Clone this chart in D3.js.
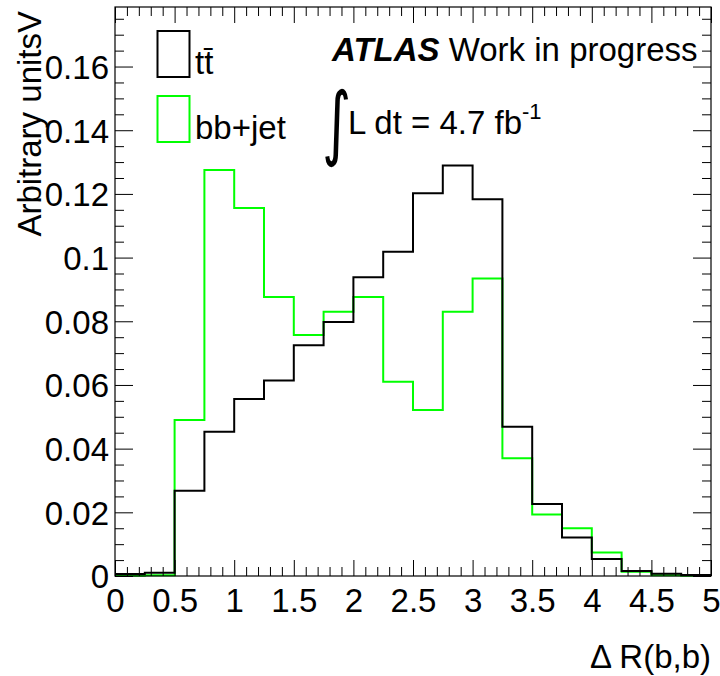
<!DOCTYPE html>
<html>
<head>
<meta charset="utf-8">
<script src="https://cdn.jsdelivr.net/npm/d3@7"></script>
<style>
  body { margin: 0; background: #fff; }
  svg { display: block; font-family: "Liberation Sans", Arial, Helvetica, sans-serif; }
</style>
</head>
<body>
<div id="chart"></div>
<script>
// ---- data ----
const binEdges = [0, 0.25, 0.5, 0.75, 1, 1.25, 1.5, 1.75, 2, 2.25, 2.5, 2.75, 3, 3.25, 3.5, 3.75, 4, 4.25, 4.5, 4.75, 5];
const ttValues = [0.0006, 0.0010, 0.0268, 0.0453, 0.0556, 0.0614, 0.0725, 0.0798, 0.0938, 0.1018,
                  0.1202, 0.1289, 0.1183, 0.0469, 0.0226, 0.0121, 0.0053, 0.0016, 0.0007, 0.0003];
const bbValues = [0.0001, 0.0002, 0.0490, 0.1275, 0.1156, 0.0876, 0.0757, 0.0830, 0.0876, 0.0610,
                  0.0521, 0.0830, 0.0934, 0.0370, 0.0193, 0.0150, 0.0074, 0.0013, 0.0002, 0.0001];
const xTicks = [0, 0.5, 1, 1.5, 2, 2.5, 3, 3.5, 4, 4.5, 5];
const xTickLabels = ["0", "0.5", "1", "1.5", "2", "2.5", "3", "3.5", "4", "4.5", "5"];
const yTicks = [0, 0.02, 0.04, 0.06, 0.08, 0.1, 0.12, 0.14, 0.16];
const yTickLabels = ["0", "0.02", "0.04", "0.06", "0.08", "0.1", "0.12", "0.14", "0.16"];
const seriesNames = ["t\u0074\u0304", "bb+jet"];
const seriesColors = ["#000000", "#00ff00"];

// ---- layout ----
const W = 720, H = 676;
const L = 115, R = 711, T = 7, B = 576;
const yMax = 0.1787;
const FONT = 33;

const svg = d3.select("#chart").append("svg").attr("width", W).attr("height", H);

const x = d3.scaleLinear().domain([0, 5]).range([L, R]);
const y = d3.scaleLinear().domain([0, yMax]).range([B, T]);

// minor ticks
const xMinor = d3.range(0, 5.0001, 0.1).filter(v => Math.abs(v * 2 - Math.round(v * 2)) > 1e-6);
const yMinor = d3.range(0, yMax, 0.005).filter(v => Math.abs(v / 0.02 - Math.round(v / 0.02)) > 1e-6);

function styleAxis(g) {
  g.select(".domain").remove();
  g.selectAll("line").attr("stroke", "#000").attr("stroke-width", 1);
}

// histograms
function histPath(vals) {
  const pts = vals.map((v, i) => [binEdges[i], v]);
  pts.push([binEdges[binEdges.length - 1], vals[vals.length - 1]]);
  return d3.line().x(d => x(d[0])).y(d => y(d[1])).curve(d3.curveStepAfter)(pts);
}
svg.append("path").attr("d", histPath(bbValues)).attr("fill", "none")
  .attr("stroke", seriesColors[1]).attr("stroke-width", 2);
svg.append("path").attr("d", histPath(ttValues)).attr("fill", "none")
  .attr("stroke", seriesColors[0]).attr("stroke-width", 2);

// bottom axis
svg.append("g").attr("transform", `translate(0,${B})`)
  .call(d3.axisBottom(x).tickValues(xTicks).tickSize(-16).tickFormat((d, i) => xTickLabels[i]))
  .call(styleAxis)
  .call(g => g.selectAll("text").attr("font-size", FONT).attr("fill", "#000").attr("font-family", "Liberation Sans, Arial, sans-serif").attr("dy", "0.35em").attr("y", 24));
svg.append("g").attr("transform", `translate(0,${B})`)
  .call(d3.axisBottom(x).tickValues(xMinor).tickSize(-9).tickFormat(""))
  .call(styleAxis);
// top axis
svg.append("g").attr("transform", `translate(0,${T})`)
  .call(d3.axisTop(x).tickValues(xTicks).tickSize(-16).tickFormat(""))
  .call(styleAxis);
svg.append("g").attr("transform", `translate(0,${T})`)
  .call(d3.axisTop(x).tickValues(xMinor).tickSize(-9).tickFormat(""))
  .call(styleAxis);
// left axis
svg.append("g").attr("transform", `translate(${L},0)`)
  .call(d3.axisLeft(y).tickValues(yTicks).tickSize(-18).tickFormat((d, i) => yTickLabels[i]))
  .call(styleAxis)
  .call(g => g.selectAll("text").attr("font-size", FONT).attr("fill", "#000").attr("font-family", "Liberation Sans, Arial, sans-serif").attr("x", -6).attr("dy", "0.36em"));
svg.append("g").attr("transform", `translate(${L},0)`)
  .call(d3.axisLeft(y).tickValues(yMinor).tickSize(-9).tickFormat(""))
  .call(styleAxis);
// right axis
svg.append("g").attr("transform", `translate(${R},0)`)
  .call(d3.axisRight(y).tickValues(yTicks).tickSize(-18).tickFormat(""))
  .call(styleAxis);
svg.append("g").attr("transform", `translate(${R},0)`)
  .call(d3.axisRight(y).tickValues(yMinor).tickSize(-9).tickFormat(""))
  .call(styleAxis);

// frame
svg.append("rect").attr("x", L).attr("y", T).attr("width", R - L).attr("height", B - T)
  .attr("fill", "none").attr("stroke", "#000").attr("stroke-width", 1.2);

// axis titles
svg.append("text").attr("x", R).attr("y", 668).attr("text-anchor", "end")
  .attr("font-size", FONT).text("\u0394 R(b,b)");
svg.append("text").attr("transform", `translate(41,${T + 4}) rotate(-90)`)
  .attr("text-anchor", "end").attr("font-size", FONT).text("Arbitrary unitsV");

// legend
const legY = [31, 96];
seriesNames.forEach((name, i) => {
  svg.append("rect").attr("x", 157.5).attr("y", legY[i]).attr("width", 32).attr("height", 46)
    .attr("fill", "none").attr("stroke", seriesColors[i]).attr("stroke-width", 2);
  svg.append("text").attr("x", 195).attr("y", legY[i] + 43).attr("font-size", FONT).text(name);
});

// ATLAS label
const atl = svg.append("text").attr("x", 332).attr("y", 61).attr("font-size", FONT);
atl.append("tspan").attr("font-weight", "bold").attr("font-style", "italic").text("ATLAS");
atl.append("tspan").text(" Work in progress");

// luminosity
svg.append("text").attr("transform", "translate(322,150) scale(1,1.45)")
  .attr("font-size", 56).attr("font-family", "DejaVu Sans, sans-serif").text("\u222B");
const lum = svg.append("text").attr("x", 348).attr("y", 134).attr("font-size", FONT);
lum.append("tspan").text("L dt = 4.7 fb");
lum.append("tspan").attr("font-size", 22).attr("dy", -15).text("-1");
</script>
</body>
</html>
